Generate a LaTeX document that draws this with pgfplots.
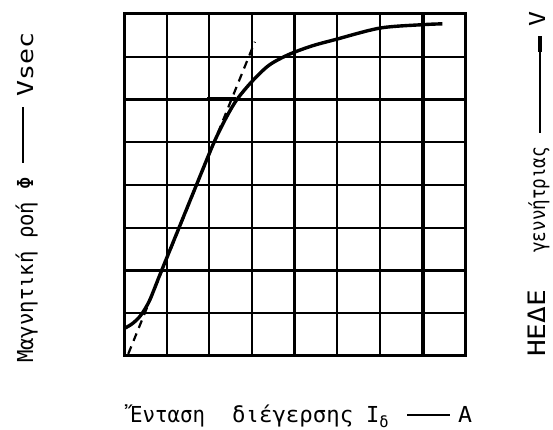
\documentclass[border=0pt]{standalone}
\usepackage{pgfplots}
\pgfplotsset{compat=1.18}
\usepackage{graphicx}
\usepackage{fontspec}
\setmainfont{DejaVu Sans}
\newfontfamily\lettering{DejaVu Sans Mono}
% stencil-style lettering stretched to a given width
\newcommand\lab[3]{\resizebox{#1}{\height}{\lettering\fontsize{#2}{#2}\selectfont #3}}

% magnetisation curve of the generator
\pgfplotstableread{
x     y
0.00  0.64
0.20  0.76
0.40  0.96
0.60  1.30
0.85  1.92
1.25  2.90
1.65  3.88
2.10  4.97
2.40  5.58
2.65  6.00
3.00  6.42
3.40  6.80
3.86  7.05
4.40  7.25
4.95  7.40
6.00  7.67
7.00  7.75
7.47  7.77
}\magcurve

\begin{document}
\begin{tikzpicture}
\path[use as bounding box] (0pt,0pt) rectangle (553pt,430pt);
\begin{axis}[
  at={(124pt,74pt)}, anchor=south west,
  width=341pt, height=342pt, scale only axis,
  xmin=0, xmax=8, ymin=0, ymax=8,
  xtick={0,...,8}, ytick={0,...,8},
  xticklabels={}, yticklabels={},
  major tick length=0pt,
  xmajorgrids, ymajorgrids,
  major grid style={black, line width=2.1pt},
  axis line style={black, line width=3pt},
  clip=false,
]
  % heavier ruling at the seventh division
  \addplot[black, line width=3.6pt] coordinates {(7.02,0) (7.02,8)};
  % knee marker on the sixth line
  \addplot[black, line width=4pt] coordinates {(1.95,6) (2.62,6)};
  % air-gap line
  \addplot[black, line width=2.2pt, dash pattern=on 8pt off 6pt]
    coordinates {(0.10,0.05) (3.07,7.35)};
  % magnetisation curve
  \addplot[black, line width=3.4pt, smooth, tension=0.5] table {\magcurve};
\end{axis}

% flux axis caption
\node[rotate=90, anchor=base west, inner sep=0pt] at (33pt,67pt)
  {\lab{186pt}{22}{Μαγνητική ροή Φ}};
\draw[line width=2.4pt] (23pt,267pt) -- (23pt,323pt);
\node[rotate=90, anchor=base west, inner sep=0pt] at (33pt,333pt)
  {\lab{64pt}{22}{Vsec}};

% e.m.f. axis caption
\node[rotate=90, anchor=base west, inner sep=0pt] at (545pt,73pt)
  {\lab{67pt}{24}{ΗΕΔΕ}};
\node[rotate=90, anchor=base west, inner sep=0pt] at (545pt,177pt)
  {\lab{106pt}{21}{γεννήτριας}};
\draw[line width=2.2pt] (540pt,297pt) -- (540pt,392pt);
\draw[line width=4.5pt] (540pt,378pt) -- (540pt,394pt);
\node[rotate=90, anchor=base west, inner sep=0pt] at (545pt,403pt)
  {\lab{15pt}{22}{V}};

% excitation current caption
\node[anchor=base west, inner sep=0pt] at (130pt,7pt)
  {\lab{75pt}{22}{Ἔνταση}};
\node[anchor=base west, inner sep=0pt] at (232pt,7pt)
  {\lab{121pt}{22}{διέγερσης}};
\node[anchor=base west, inner sep=0pt] at (366pt,7pt)
  {\lettering\fontsize{22}{22}\selectfont I\textsubscript{δ}};
\draw[line width=2.6pt] (407pt,15pt) -- (450pt,15pt);
\node[anchor=base west, inner sep=0pt] at (458pt,7pt)
  {\lab{14pt}{22}{A}};
\end{tikzpicture}
\end{document}
